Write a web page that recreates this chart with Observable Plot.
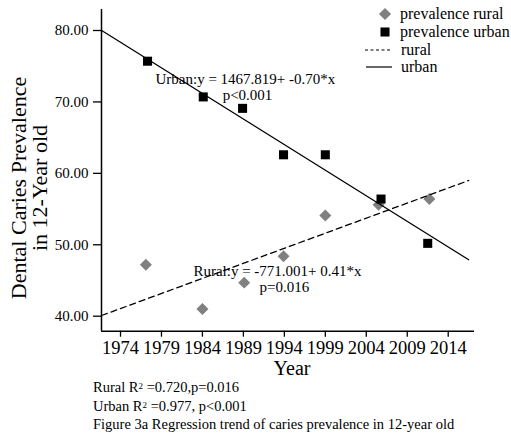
<!DOCTYPE html>
<html><head><meta charset="utf-8">
<script src="https://cdn.jsdelivr.net/npm/d3@7"></script>
<script src="https://cdn.jsdelivr.net/npm/@observablehq/plot@0.6"></script>
<style>
body{margin:0;background:#fff;font-family:"Liberation Serif","Times New Roman",serif;}
#chart svg{display:block;}
#caption{margin-left:93px;font-size:14.5px;line-height:18.5px;color:#000;}
#caption sup{font-size:9px;vertical-align:top;position:relative;top:-1px;}
</style></head><body>
<div id="chart"></div>
<div id="caption"></div>
<script>
// ---- data ----
const yearsUrban = [1977.3, 1984.1, 1988.9, 1993.9, 1999.0, 2005.8, 2011.5];
const prevalenceUrban = [75.7, 70.7, 69.1, 62.6, 62.6, 56.4, 50.2];
const yearsRural = [1977.1, 1984.0, 1989.1, 1993.9, 1999.0, 2005.5, 2011.7];
const prevalenceRural = [47.2, 41.0, 44.7, 48.4, 54.1, 55.6, 56.4];
const trendYears = [1971.7, 2016.5];
const trendUrban = [80.0, 47.9];
const trendRural = [40.1, 59.0];
const xTicks = [1974, 1979, 1984, 1989, 1994, 1999, 2004, 2009, 2014];
const yTicks = [40, 50, 60, 70, 80];
const xDomain = [1971.68, 2017.21];
const yDomain = [37.9, 82.94];
const annotationText = ["Urban:y = 1467.819+ -0.70*x", "p<0.001", "Rural:y = -771.001+ 0.41*x", "p=0.016"];
const annotationX = [1978.27, 1989.5, 1982.9, 1994.0];
const annotationY = [73.2, 70.95, 46.26, 44.0];
const annotationAnchor = ["start", "middle", "start", "middle"];
const legendLabels = ["prevalence rural", "prevalence urban", "rural", "urban"];
const captionLines = ["Rural R<sup>2</sup> =0.720,p=0.016", "Urban R<sup>2</sup> =0.977, p&lt;0.001", "Figure 3a Regression trend of caries prevalence in 12-year old"];
const yLabel = ["Dental Caries Prevalence", "in 12-Year old"];
const xLabel = "Year";

const urban = yearsUrban.map((y, i) => ({year: y, value: prevalenceUrban[i]}));
const rural = yearsRural.map((y, i) => ({year: y, value: prevalenceRural[i]}));
const urbanLine = trendYears.map((y, i) => ({year: y, value: trendUrban[i]}));
const ruralLine = trendYears.map((y, i) => ({year: y, value: trendRural[i]}));
const annotations = annotationText.map((t, i) => ({text: t, x: annotationX[i], y: annotationY[i], anchor: annotationAnchor[i]}));

const font = "Liberation Serif";
const svg = Plot.plot({
  width: 511, height: 378,
  marginLeft: 101, marginRight: 37, marginTop: 9, marginBottom: 47.3,
  style: {fontFamily: font, background: "white", color: "black"},
  x: {domain: xDomain},
  y: {domain: yDomain},
  marks: [
    Plot.axisY(yTicks, {tickSize: 8, tickPadding: 5, tickFormat: d => d.toFixed(2), fontSize: 15, label: null, strokeWidth: 1.3}),
    Plot.axisX(xTicks, {tickSize: 6, tickPadding: 4, tickFormat: d => String(d), fontSize: 18.5, label: null, strokeWidth: 1.3}),
    Plot.ruleX([xDomain[0]], {strokeWidth: 1.5}),
    Plot.ruleY([yDomain[0]], {strokeWidth: 1.5}),
    Plot.dot(rural, {x: "year", y: "value", symbol: "diamond2", r: 5.4, fill: "#808080", stroke: "none"}),
    Plot.dot(urban, {x: "year", y: "value", symbol: "square", r: 5.1, fill: "black", stroke: "none"}),
    Plot.line(ruralLine, {x: "year", y: "value", stroke: "black", strokeWidth: 1.3, strokeDasharray: "6,4"}),
    Plot.line(urbanLine, {x: "year", y: "value", stroke: "black", strokeWidth: 1.3}),
    Plot.text(annotations.filter(d => d.anchor === "start"), {x: "x", y: "y", text: "text", textAnchor: "start", fontSize: 15, fill: "black"}),
    Plot.text(annotations.filter(d => d.anchor === "middle"), {x: "x", y: "y", text: "text", textAnchor: "middle", fontSize: 15, fill: "black"})
  ]
});
document.getElementById("chart").appendChild(svg);

const s = d3.select(svg);
// y label (two lines)
yLabel.forEach((t, i) => {
  s.append("text").attr("transform", `translate(${25.5 + i * 21.5},188) rotate(-90)`)
    .attr("text-anchor", "middle").attr("font-family", font).attr("font-size", 22).attr("fill", "black").text(t);
});
// x label
s.append("text").attr("x", 292).attr("y", 375).attr("text-anchor", "middle")
  .attr("font-family", font).attr("font-size", 20).attr("fill", "black").text(xLabel);

// legend
const lg = s.append("g").attr("font-family", font).attr("font-size", 16).attr("fill", "black").attr("text-anchor", "start");
const rowY = [14, 32, 50, 67];
lg.append("path").attr("transform", `translate(385,${rowY[0]})`).attr("d", d3.symbol(d3.symbolDiamond2, 95)()).attr("fill", "#808080");
lg.append("path").attr("transform", `translate(385,${rowY[1]})`).attr("d", d3.symbol(d3.symbolSquare, 82)()).attr("fill", "black");
lg.append("line").attr("x1", 365).attr("x2", 390).attr("y1", rowY[2]).attr("y2", rowY[2]).attr("stroke", "black").attr("stroke-width", 1).attr("stroke-dasharray", "3,2.5");
lg.append("line").attr("x1", 366).attr("x2", 392).attr("y1", rowY[3]).attr("y2", rowY[3]).attr("stroke", "black").attr("stroke-width", 1.2);
legendLabels.forEach((t, i) => {
  lg.append("text").attr("x", i < 2 ? 400 : 401).attr("y", rowY[i] + 5).attr("text-anchor", "start").text(t);
});

document.getElementById("caption").innerHTML = captionLines.map(l => `<div>${l}</div>`).join("");
</script>
</body></html>
